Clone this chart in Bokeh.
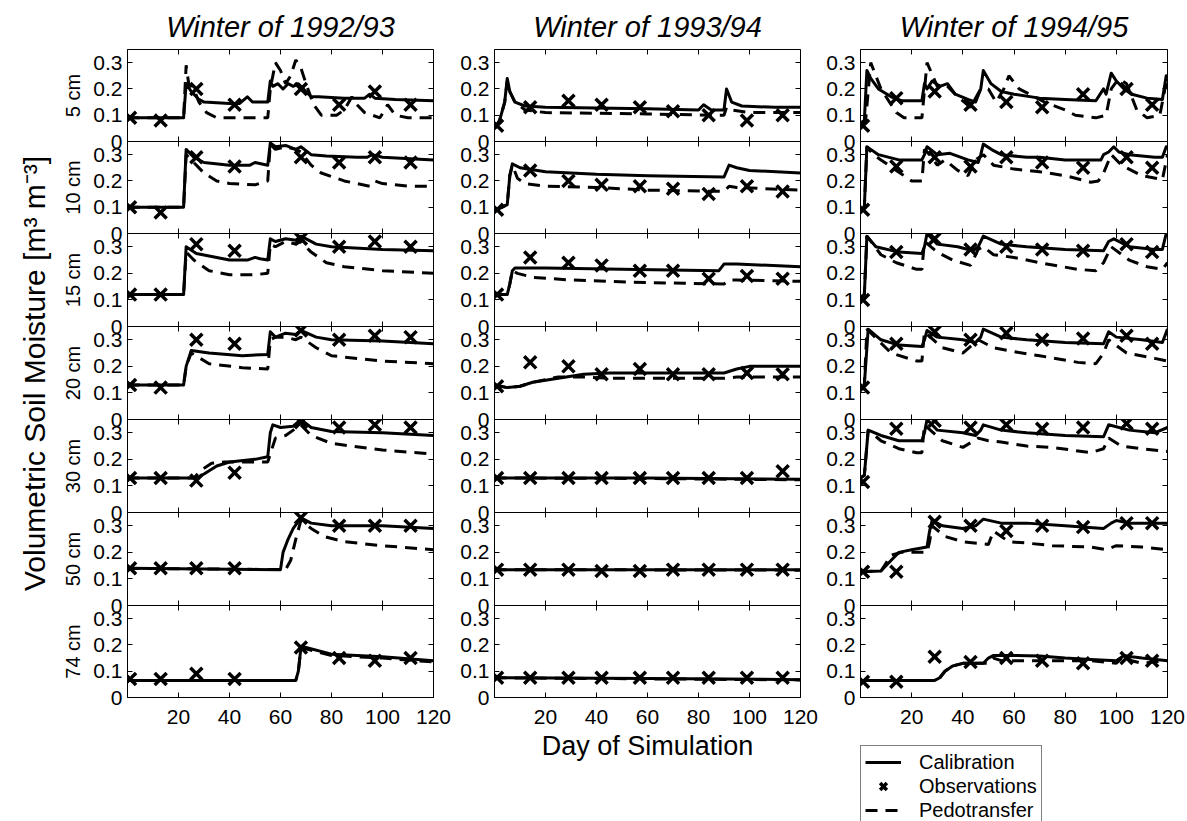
from bokeh.plotting import figure
from bokeh.models import (Range1d, LinearAxis, FixedTicker, NumeralTickFormatter,
                          Legend, LegendItem)
from bokeh.layouts import row, column
from bokeh.embed import file_html
from bokeh.resources import INLINE

FONT = "Liberation Sans"

years = ["Winter of 1992/93", "Winter of 1993/94", "Winter of 1994/95"]
depths = ["5 cm", "10 cm", "15 cm", "20 cm", "30 cm", "50 cm", "74 cm"]
x_ticks = [20, 40, 60, 80, 100, 120]
y_ticks = [0, 0.1, 0.2, 0.3]
y_label = "Volumetric Soil Moisture [m\u00b3 m\u207b\u00b3]"
x_label = "Day of Simulation"
series_names = ["Calibration", "Observations", "Pedotransfer"]

# observation days per winter
obs_days_9293 = [1, 13, 27, 42, 68, 83, 97, 111]
obs_days_9394 = [1, 14, 29, 42, 57, 70, 84, 99, 113]
obs_days_9495 = [1, 14, 29, 43, 57, 71, 87, 104, 114]

# ---------------- Winter 1992/93 ----------------
cal_9293_05 = [(0,0.09),(22,0.09),(23,0.22),(25,0.19),(28,0.16),(30,0.15),(40,0.145),(44,0.145),(47,0.17),(49,0.15),(55,0.15),(56,0.23),(57,0.21),(59,0.22),(61,0.2),(63,0.22),(65,0.21),(67,0.22),(69,0.2),(72,0.17),(75,0.17),(85,0.165),(93,0.165),(95,0.18),(97,0.165),(105,0.16),(120,0.155)]
ped_9293_05 = [(0,0.09),(22,0.09),(23,0.29),(24,0.22),(26,0.2),(28,0.15),(31,0.11),(35,0.09),(55,0.09),(56,0.2),(58,0.3),(60,0.27),(62,0.22),(64,0.25),(66,0.31),(68,0.28),(70,0.22),(73,0.14),(76,0.1),(82,0.1),(85,0.12),(88,0.17),(90,0.14),(93,0.11),(96,0.1),(99,0.09),(102,0.14),(105,0.1),(110,0.09),(120,0.09)]
obs_9293_05 = [0.09, 0.08, 0.2, 0.14, 0.2, 0.14, 0.19, 0.14]

cal_9293_10 = [(0,0.1),(22,0.1),(23,0.32),(26,0.29),(30,0.27),(40,0.26),(48,0.26),(50,0.27),(55,0.26),(56,0.345),(58,0.33),(62,0.335),(66,0.32),(68,0.33),(72,0.3),(78,0.295),(90,0.29),(94,0.29),(96,0.3),(100,0.29),(120,0.28)]
ped_9293_10 = [(0,0.1),(22,0.1),(23,0.3),(26,0.27),(30,0.23),(35,0.2),(40,0.19),(50,0.185),(55,0.2),(56,0.34),(58,0.32),(62,0.33),(66,0.32),(68,0.31),(72,0.26),(76,0.23),(85,0.2),(95,0.18),(97,0.2),(100,0.19),(110,0.18),(120,0.18)]
obs_9293_10 = [0.1, 0.08, 0.29, 0.255, 0.29, 0.27, 0.29, 0.27]

cal_9293_15 = [(0,0.12),(22,0.12),(23,0.3),(27,0.275),(32,0.265),(40,0.25),(47,0.25),(50,0.26),(52,0.255),(55,0.25),(56,0.33),(58,0.32),(62,0.33),(66,0.325),(68,0.34),(74,0.31),(80,0.3),(100,0.29),(120,0.285)]
ped_9293_15 = [(0,0.12),(22,0.12),(23,0.28),(26,0.25),(32,0.21),(40,0.195),(50,0.195),(55,0.2),(56,0.31),(58,0.3),(62,0.32),(66,0.31),(68,0.32),(72,0.28),(78,0.24),(85,0.225),(100,0.21),(120,0.2)]
obs_9293_15 = [0.12, 0.12, 0.31, 0.285, 0.33, 0.3, 0.32, 0.3]

cal_9293_20 = [(0,0.13),(22,0.13),(23,0.2),(25,0.26),(32,0.25),(45,0.24),(55,0.245),(56,0.33),(58,0.31),(62,0.325),(66,0.32),(68,0.335),(74,0.31),(80,0.3),(100,0.295),(120,0.285)]
ped_9293_20 = [(0,0.13),(22,0.13),(23,0.2),(25,0.25),(32,0.21),(45,0.195),(55,0.19),(56,0.3),(58,0.31),(62,0.31),(66,0.3),(68,0.31),(74,0.27),(80,0.24),(100,0.22),(120,0.21)]
obs_9293_20 = [0.13, 0.12, 0.3, 0.285, 0.335, 0.3, 0.315, 0.31]

cal_9293_30 = [(0,0.13),(27,0.13),(30,0.145),(35,0.175),(40,0.19),(50,0.2),(55,0.21),(56,0.3),(57,0.33),(60,0.32),(65,0.325),(68,0.35),(72,0.32),(80,0.305),(100,0.3),(120,0.29)]
ped_9293_30 = [(0,0.13),(26,0.13),(29,0.16),(33,0.185),(38,0.19),(45,0.19),(55,0.19),(56,0.22),(58,0.28),(62,0.29),(65,0.31),(68,0.33),(72,0.29),(80,0.26),(100,0.235),(120,0.22)]
obs_9293_30 = [0.13, 0.13, 0.12, 0.15, 0.34, 0.32, 0.33, 0.32]

cal_9293_50 = [(0,0.14),(60,0.135),(61,0.2),(63,0.25),(65,0.29),(68,0.33),(72,0.31),(80,0.3),(100,0.3),(120,0.29)]
ped_9293_50 = [(0,0.14),(62,0.135),(64,0.17),(66,0.25),(68,0.32),(72,0.29),(77,0.26),(85,0.24),(100,0.225),(120,0.21)]
obs_9293_50 = [0.14, 0.14, 0.14, 0.14, 0.33, 0.3, 0.3, 0.3]

cal_9293_74 = [(0,0.065),(66,0.065),(67,0.1),(68,0.19),(70,0.19),(80,0.165),(100,0.155),(120,0.14)]
ped_9293_74 = [(0,0.065),(66,0.065),(67,0.1),(68,0.185),(70,0.185),(80,0.16),(100,0.15),(120,0.135)]
obs_9293_74 = [0.07, 0.07, 0.09, 0.07, 0.19, 0.15, 0.14, 0.15]

# ---------------- Winter 1993/94 ----------------
cal_9394_05 = [(0,0.05),(2,0.08),(4,0.15),(5,0.24),(6,0.19),(8,0.15),(12,0.135),(20,0.13),(60,0.125),(80,0.12),(82,0.14),(85,0.12),(90,0.12),(91,0.2),(93,0.15),(97,0.135),(110,0.13),(120,0.13)]
ped_9394_05 = [(0,0.05),(2,0.08),(4,0.15),(5,0.23),(6,0.19),(8,0.15),(12,0.12),(20,0.11),(60,0.105),(85,0.1),(90,0.1),(91,0.13),(93,0.12),(100,0.11),(120,0.11)]
obs_9394_05 = [0.06, 0.13, 0.155, 0.14, 0.13, 0.115, 0.1, 0.08, 0.1]

cal_9394_10 = [(0,0.09),(3,0.1),(5,0.11),(6,0.22),(7,0.265),(10,0.25),(20,0.235),(40,0.225),(60,0.22),(90,0.215),(92,0.26),(95,0.25),(100,0.24),(120,0.23)]
ped_9394_10 = [(0,0.09),(3,0.1),(5,0.11),(6,0.22),(7,0.26),(9,0.21),(12,0.19),(20,0.18),(40,0.175),(60,0.165),(90,0.16),(92,0.18),(95,0.175),(120,0.165)]
obs_9394_10 = [0.09, 0.24, 0.2, 0.185, 0.18, 0.17, 0.15, 0.18, 0.16]

cal_9394_15 = [(0,0.12),(5,0.12),(6,0.16),(7,0.21),(8,0.22),(20,0.22),(50,0.215),(88,0.21),(90,0.235),(95,0.235),(120,0.225)]
ped_9394_15 = [(0,0.12),(5,0.12),(6,0.16),(7,0.21),(9,0.2),(15,0.185),(30,0.175),(60,0.165),(90,0.16),(92,0.175),(95,0.175),(120,0.17)]
obs_9394_15 = [0.12, 0.26, 0.24, 0.23, 0.21, 0.21, 0.18, 0.19, 0.18]

cal_9394_20 = [(0,0.13),(5,0.12),(10,0.125),(15,0.14),(25,0.155),(35,0.17),(45,0.175),(60,0.175),(90,0.175),(95,0.19),(100,0.2),(120,0.2)]
ped_9394_20 = [(0,0.13),(5,0.12),(10,0.125),(15,0.14),(25,0.16),(35,0.16),(45,0.155),(60,0.155),(90,0.155),(95,0.16),(120,0.16)]
obs_9394_20 = [0.125, 0.215, 0.2, 0.17, 0.19, 0.17, 0.17, 0.175, 0.17]

cal_9394_30 = [(0,0.13),(60,0.13),(120,0.125)]
ped_9394_30 = [(0,0.13),(60,0.128),(120,0.123)]
obs_9394_30 = [0.13, 0.13, 0.13, 0.13, 0.13, 0.13, 0.13, 0.13, 0.155]

cal_9394_50 = [(0,0.135),(60,0.135),(120,0.135)]
ped_9394_50 = [(0,0.135),(60,0.134),(120,0.133)]
obs_9394_50 = [0.135, 0.135, 0.135, 0.13, 0.13, 0.135, 0.135, 0.135, 0.135]

cal_9394_74 = [(0,0.075),(60,0.072),(120,0.068)]
ped_9394_74 = [(0,0.075),(60,0.071),(120,0.067)]
obs_9394_74 = [0.075, 0.075, 0.075, 0.075, 0.075, 0.075, 0.075, 0.075, 0.075]

# ---------------- Winter 1994/95 ----------------
cal_9495_05 = [(0,0.07),(1.5,0.08),(2.5,0.27),(4,0.24),(7,0.2),(12,0.17),(16,0.155),(24,0.155),(25,0.22),(26,0.2),(28,0.23),(31,0.21),(34,0.22),(37,0.18),(42,0.16),(45,0.15),(47,0.2),(48,0.27),(51,0.22),(55,0.19),(60,0.18),(70,0.165),(80,0.16),(92,0.155),(95,0.2),(96,0.18),(98,0.26),(100,0.23),(103,0.2),(106,0.18),(112,0.165),(118,0.16),(119.5,0.25),(120,0.24)]
ped_9495_05 = [(0,0.07),(2,0.08),(4,0.3),(8,0.2),(14,0.11),(17,0.09),(24,0.09),(26,0.3),(30,0.21),(33,0.22),(38,0.17),(43,0.13),(47,0.2),(50,0.2),(53,0.15),(56,0.2),(58,0.25),(62,0.2),(68,0.17),(72,0.15),(80,0.12),(84,0.1),(92,0.09),(96,0.1),(98,0.2),(101,0.24),(104,0.22),(108,0.12),(112,0.09),(117,0.1),(119,0.2),(120,0.22)]
obs_9495_05 = [0.06, 0.165, 0.19, 0.14, 0.15, 0.13, 0.18, 0.2, 0.14]

cal_9495_10 = [(0,0.09),(1.5,0.1),(2.5,0.33),(4,0.32),(7,0.3),(15,0.28),(24,0.28),(25,0.3),(26,0.33),(30,0.3),(35,0.305),(42,0.28),(46,0.27),(47,0.3),(48,0.34),(52,0.315),(55,0.3),(65,0.29),(70,0.29),(80,0.28),(94,0.28),(95,0.3),(97,0.31),(99,0.33),(101,0.31),(105,0.3),(115,0.29),(118,0.29),(119.5,0.33),(120,0.33)]
ped_9495_10 = [(0,0.09),(1.5,0.1),(2.5,0.33),(5,0.3),(8,0.28),(14,0.24),(20,0.2),(24,0.2),(25,0.32),(27,0.3),(30,0.26),(33,0.28),(38,0.24),(42,0.22),(45,0.28),(48,0.3),(52,0.26),(60,0.245),(70,0.235),(80,0.22),(90,0.195),(93,0.2),(95,0.23),(98,0.3),(102,0.26),(110,0.22),(118,0.205),(120,0.3)]
obs_9495_10 = [0.09, 0.255, 0.29, 0.255, 0.29, 0.27, 0.25, 0.29, 0.25]

cal_9495_15 = [(0,0.11),(1.5,0.12),(2.5,0.34),(6,0.3),(15,0.28),(24,0.275),(25,0.3),(26,0.35),(30,0.31),(38,0.3),(44,0.285),(46,0.3),(48,0.34),(55,0.31),(65,0.3),(80,0.29),(95,0.285),(97,0.32),(99,0.33),(105,0.3),(115,0.29),(118,0.29),(119.5,0.35),(120,0.35)]
ped_9495_15 = [(0,0.11),(1.5,0.12),(2.5,0.34),(8,0.27),(14,0.24),(22,0.215),(24,0.215),(25,0.32),(30,0.28),(36,0.25),(43,0.23),(46,0.29),(48,0.3),(52,0.27),(60,0.26),(70,0.24),(85,0.215),(92,0.21),(95,0.24),(98,0.3),(105,0.25),(112,0.225),(118,0.215),(120,0.24)]
obs_9495_15 = [0.1, 0.28, 0.33, 0.29, 0.3, 0.29, 0.285, 0.31, 0.28]

cal_9495_20 = [(0,0.12),(1.5,0.13),(3,0.34),(8,0.3),(15,0.28),(24,0.275),(25,0.3),(26,0.335),(30,0.31),(40,0.3),(45,0.29),(47,0.31),(48,0.34),(55,0.31),(65,0.3),(80,0.29),(95,0.285),(97,0.33),(100,0.31),(110,0.3),(118,0.29),(120,0.34)]
ped_9495_20 = [(0,0.12),(1.5,0.13),(2.5,0.34),(12,0.25),(22,0.22),(24,0.22),(25,0.33),(32,0.27),(40,0.25),(46,0.3),(52,0.27),(60,0.255),(70,0.24),(85,0.215),(92,0.21),(95,0.25),(97,0.3),(104,0.25),(115,0.23),(120,0.22)]
obs_9495_20 = [0.12, 0.285, 0.33, 0.3, 0.325, 0.3, 0.305, 0.315, 0.285]

cal_9495_30 = [(0,0.13),(1.5,0.14),(3,0.31),(8,0.29),(15,0.27),(24,0.27),(25,0.3),(26,0.35),(30,0.31),(40,0.3),(45,0.29),(47,0.31),(48,0.33),(55,0.31),(65,0.3),(80,0.29),(95,0.285),(97,0.33),(105,0.31),(115,0.3),(120,0.32)]
ped_9495_30 = [(0,0.13),(1.5,0.14),(3,0.31),(8,0.27),(15,0.24),(22,0.225),(24,0.225),(25,0.33),(32,0.27),(40,0.245),(46,0.28),(50,0.27),(55,0.265),(65,0.25),(75,0.245),(90,0.225),(95,0.24),(97,0.28),(102,0.25),(110,0.24),(120,0.23)]
obs_9495_30 = [0.115, 0.315, 0.345, 0.32, 0.33, 0.315, 0.32, 0.335, 0.315]

cal_9495_50 = [(0,0.127),(8,0.13),(12,0.17),(15,0.2),(20,0.21),(26,0.22),(27,0.28),(28,0.32),(32,0.3),(40,0.29),(45,0.3),(48,0.325),(55,0.31),(65,0.31),(80,0.3),(95,0.29),(98,0.31),(100,0.32),(105,0.31),(120,0.31)]
ped_9495_50 = [(0,0.127),(8,0.13),(12,0.19),(16,0.2),(20,0.2),(26,0.2),(27,0.24),(28,0.3),(33,0.26),(40,0.24),(50,0.23),(52,0.28),(58,0.24),(65,0.235),(75,0.225),(90,0.22),(96,0.21),(100,0.225),(110,0.22),(120,0.21)]
obs_9495_50 = [0.127, 0.127, 0.315, 0.3, 0.28, 0.3, 0.295, 0.31, 0.31]

cal_9495_74 = [(0,0.065),(29,0.065),(31,0.075),(33,0.1),(36,0.12),(40,0.13),(48,0.13),(50,0.15),(52,0.16),(60,0.16),(70,0.158),(80,0.15),(90,0.145),(100,0.14),(103,0.16),(106,0.155),(110,0.15),(120,0.14)]
ped_9495_74 = [(0,0.065),(29,0.065),(31,0.075),(33,0.1),(36,0.12),(40,0.13),(50,0.13),(52,0.15),(55,0.14),(60,0.14),(90,0.14),(100,0.13),(103,0.16),(106,0.14),(110,0.13),(120,0.14)]
obs_9495_74 = [0.06, 0.06, 0.155, 0.135, 0.15, 0.14, 0.13, 0.15, 0.14]

panels = [
    [(cal_9293_05, ped_9293_05, obs_9293_05), (cal_9293_10, ped_9293_10, obs_9293_10),
     (cal_9293_15, ped_9293_15, obs_9293_15), (cal_9293_20, ped_9293_20, obs_9293_20),
     (cal_9293_30, ped_9293_30, obs_9293_30), (cal_9293_50, ped_9293_50, obs_9293_50),
     (cal_9293_74, ped_9293_74, obs_9293_74)],
    [(cal_9394_05, ped_9394_05, obs_9394_05), (cal_9394_10, ped_9394_10, obs_9394_10),
     (cal_9394_15, ped_9394_15, obs_9394_15), (cal_9394_20, ped_9394_20, obs_9394_20),
     (cal_9394_30, ped_9394_30, obs_9394_30), (cal_9394_50, ped_9394_50, obs_9394_50),
     (cal_9394_74, ped_9394_74, obs_9394_74)],
    [(cal_9495_05, ped_9495_05, obs_9495_05), (cal_9495_10, ped_9495_10, obs_9495_10),
     (cal_9495_15, ped_9495_15, obs_9495_15), (cal_9495_20, ped_9495_20, obs_9495_20),
     (cal_9495_30, ped_9495_30, obs_9495_30), (cal_9495_50, ped_9495_50, obs_9495_50),
     (cal_9495_74, ped_9495_74, obs_9495_74)],
]
obs_days = [obs_days_9293, obs_days_9394, obs_days_9495]


def unzip(pairs):
    return [a for a, _ in pairs], [b for _, b in pairs]


# layout geometry (pixels)
FW = [306, 306, 307]
FH = [92, 92, 93, 93, 93, 93, 92]
BL = [63, 39, 40]
BR = [22, 20, 18]
BT = 49
BB = [44, 100, 48]
OVER = 12           # interior panels extend below their frame and overlap the next one
LAB_W = 58          # width of the strip that holds the common y label
LEG_H = 821 - BT - sum(FH) - BB[2]

LINE_W = 3
DASH = "12 8"
MARK_SIZE = 17
MARK_W = 3.5


def style_axis(ax, ticks, labels=True):
    ax.ticker = FixedTicker(ticks=ticks)
    ax.axis_line_color = "black"
    ax.axis_line_width = 1
    ax.major_tick_line_color = "black"
    ax.major_tick_line_width = 1
    ax.major_tick_in = 5
    ax.major_tick_out = 0
    ax.minor_tick_line_color = None
    ax.major_label_text_font = FONT
    ax.major_label_text_font_size = "21px"
    ax.major_label_text_color = "black" if labels else None


# strip with the common y-axis label
lab = figure(frame_width=1, frame_height=sum(FH), x_range=Range1d(0, 1),
             y_range=Range1d(0, 1), x_axis_location=None, y_axis_location="left",
             output_backend="svg", toolbar_location=None,
             min_border_left=LAB_W, min_border_right=0, min_border_top=BT,
             min_border_bottom=0)
lab.outline_line_color = None
lab.background_fill_color = "white"
lab.border_fill_color = "white"
for g in lab.grid:
    g.visible = False
la = lab.yaxis[0]
la.ticker = FixedTicker(ticks=[])
la.axis_line_color = None
la.major_tick_line_color = None
la.minor_tick_line_color = None
la.axis_label = y_label
la.axis_label_text_font = FONT
la.axis_label_text_font_size = "30px"
la.axis_label_text_font_style = "normal"
la.axis_label_text_color = "black"
la.axis_label_standoff = 8

columns = [lab]
for ci in range(3):
    figs = []
    for ri in range(7):
        last = ri == 6
        kw = {}
        if ri == 0:
            kw["title"] = years[ci]
        if not last:
            kw["margin"] = (0, 0, -OVER, 0)
        p = figure(frame_width=FW[ci], frame_height=FH[ri],
                   x_range=Range1d(0, 120), y_range=Range1d(0, 0.35),
                   x_axis_location="below" if last else None,
                   y_axis_location="left",
                   output_backend="svg", toolbar_location=None,
                   min_border_left=BL[ci], min_border_right=BR[ci],
                   min_border_top=BT if ri == 0 else 0,
                   min_border_bottom=BB[ci] if last else OVER, **kw)
        p.outline_line_color = "black"
        p.outline_line_width = 1
        p.background_fill_color = "white"
        p.border_fill_alpha = 0
        for g in p.grid:
            g.visible = False

        if ri == 0:
            p.title.align = "center"
            p.title.text_font = FONT
            p.title.text_font_size = "29px"
            p.title.text_font_style = "italic"
            p.title.text_color = "black"
            p.title.standoff = 14

        ya = p.yaxis[0]
        style_axis(ya, y_ticks)
        ya.formatter = NumeralTickFormatter(format="0.[0]")
        ya.major_label_standoff = 5
        if ci == 0:
            ya.axis_label = depths[ri]
            ya.axis_label_text_font = FONT
            ya.axis_label_text_font_size = "20px"
            ya.axis_label_text_font_style = "normal"
            ya.axis_label_text_color = "black"
            ya.axis_label_standoff = 6

        if last:
            xa = p.xaxis[0]
            style_axis(xa, x_ticks)
            xa.major_label_standoff = 12
            if ci == 1:
                xa.axis_label = x_label
                xa.axis_label_text_font = FONT
                xa.axis_label_text_font_size = "27px"
                xa.axis_label_text_font_style = "normal"
                xa.axis_label_text_color = "black"
                xa.axis_label_standoff = 4
        else:
            ba = LinearAxis(fixed_location=0)
            style_axis(ba, x_ticks, labels=False)
            p.add_layout(ba, "below")

        ra = LinearAxis(fixed_location=120)
        style_axis(ra, [0.1, 0.2, 0.3], labels=False)
        p.add_layout(ra, "right")
        ta = LinearAxis(fixed_location=0.35)
        style_axis(ta, x_ticks, labels=False)
        p.add_layout(ta, "above")

        cal, ped, obs = panels[ci][ri]
        cx, cy = unzip(cal)
        px, py = unzip(ped)
        p.line(px, py, line_color="black", line_width=LINE_W, line_dash=DASH)
        p.line(cx, cy, line_color="black", line_width=LINE_W, line_join="round")
        p.scatter(obs_days[ci], obs, marker="x", size=MARK_SIZE,
                  line_color="black", line_width=MARK_W)
        figs.append(p)

    if ci == 2:
        # legend box under the last column; its key glyphs repeat the 74 cm series
        # of this winter, kept outside the (empty) view of this strip
        lf = figure(frame_width=FW[2], frame_height=LEG_H, x_range=Range1d(0, 120),
                    y_range=Range1d(1, 2), x_axis_location=None, y_axis_location=None,
                    output_backend="svg", toolbar_location=None,
                    min_border_left=BL[2], min_border_right=BR[2],
                    min_border_top=0, min_border_bottom=0)
        lf.outline_line_color = None
        lf.background_fill_color = "white"
        lf.border_fill_color = "white"
        for g in lf.grid:
            g.visible = False
        lcx, lcy = unzip(cal_9495_74)
        lpx, lpy = unzip(ped_9495_74)
        g_cal = lf.line(lcx, lcy, line_color="black", line_width=LINE_W)
        g_obs = lf.scatter(obs_days_9495, obs_9495_74, marker="x", size=MARK_SIZE,
                           line_color="black", line_width=MARK_W)
        g_ped = lf.line(lpx, lpy, line_color="black", line_width=LINE_W, line_dash=DASH)
        legend = Legend(items=[LegendItem(label=series_names[0], renderers=[g_cal]),
                               LegendItem(label=series_names[1], renderers=[g_obs]),
                               LegendItem(label=series_names[2], renderers=[g_ped])],
                        location="top_left", orientation="vertical",
                        padding=4, spacing=0, margin=0,
                        label_height=24, glyph_height=24, glyph_width=36,
                        label_standoff=18, label_text_font=FONT,
                        label_text_font_size="20px", label_text_color="black",
                        label_text_line_height=1.0,
                        border_line_color="black", border_line_width=1,
                        background_fill_color="white", background_fill_alpha=1)
        lf.add_layout(legend)
        figs.append(lf)
    columns.append(column(*figs, spacing=0))

layout = row(*columns, spacing=0)
open("out.html", "w").write(file_html(layout, INLINE))
